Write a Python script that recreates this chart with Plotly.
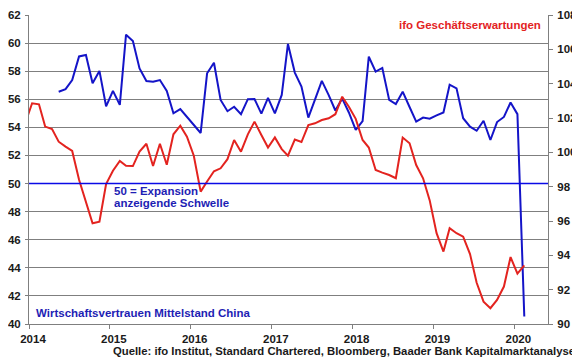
import pandas as pd
import plotly.graph_objects as go

# ---------------- data ----------------
ifo_start = "2013-12-01"
ifo_values = [101.7, 102.86, 102.80, 101.50, 101.36, 100.62, 100.33, 100.08, 98.4, 97.1,
              95.87, 95.96, 98.15, 98.93, 99.50, 99.22, 99.20, 100.05, 100.5, 99.2,
              100.5, 99.28, 101.05, 101.55, 100.91, 99.8, 97.71, 98.3, 98.9, 99.07,
              99.6, 100.72, 100.04, 101.05, 101.79, 101.01, 100.28, 100.87, 100.19, 99.81,
              100.74, 100.6, 101.59, 101.69, 101.88, 101.98, 102.22, 103.24, 102.66, 101.95,
              100.72, 100.28, 98.97, 98.82, 98.68, 98.49, 100.86, 100.53, 99.26, 98.49,
              97.2, 95.29, 94.22, 95.58, 95.29, 95.09, 94.07, 92.4, 91.3, 90.92,
              91.4, 92.18, 93.9, 92.93, 93.41]

sme_start = "2014-05-01"
sme_values = [56.54, 56.72, 57.37, 59.05, 59.15, 57.14, 58.02, 55.5, 56.6, 55.6,
              60.6, 60.15, 58.2, 57.3, 57.25, 57.37, 56.6, 55.0, 55.3, 54.75,
              54.2, 53.6, 57.85, 58.6, 55.95, 55.15, 55.47, 54.94, 56.01, 56.02,
              54.98, 56.1, 55.0, 56.31, 59.94, 57.9, 56.9, 54.7, 55.98, 57.31,
              56.3, 55.2, 56.05, 55.06, 53.82, 54.45, 59.03, 57.97, 58.23, 55.95,
              55.66, 56.54, 55.45, 54.41, 54.7, 54.62, 54.85, 55.06, 57.04, 56.78,
              54.65, 54.05, 53.76, 54.47, 53.1, 54.38, 54.74, 55.77, 54.94, 40.53]

year_ticks = ["2014", "2015", "2016", "2017", "2018", "2019", "2020"]
threshold = 50

ifo_dates = pd.date_range(ifo_start, periods=len(ifo_values), freq="MS") + pd.Timedelta(days=14)
sme_dates = pd.date_range(sme_start, periods=len(sme_values), freq="MS") + pd.Timedelta(days=14)

# ---------------- styling ----------------
W, H = 580, 359
OFF = 8  # page body margin offset
PL, PR, PT, PB = 29, 548, 15, 324  # plot area in window pixels
L, T = PL - OFF, PT - OFF
R, B = W - (PR - OFF), H - (PB - OFF)
FONT = "Liberation Sans, Arial, sans-serif"
RED = "#e3231f"
BLUE = "#1414c8"
TXTBLUE = "#1e1eb4"
GRID = "#7f7f7f"


def px(x):
    return (x - PL) / (PR - PL)


def py(y):
    return (PB - y) / (PB - PT)


fig = go.Figure()
fig.add_trace(go.Scatter(x=ifo_dates, y=ifo_values, mode="lines", yaxis="y2",
                         line=dict(color=RED, width=2), name="ifo Geschäftserwartungen"))
fig.add_trace(go.Scatter(x=sme_dates, y=sme_values, mode="lines", yaxis="y",
                         line=dict(color=BLUE, width=2), name="Wirtschaftsvertrauen Mittelstand China"))

fig.add_shape(type="line", xref="paper", yref="y", x0=0, x1=1, y0=threshold, y1=threshold,
              line=dict(color="#0a0ae6", width=1.6))

tickfont = dict(family=FONT, size=11.5, color="#1a1a1a", weight="bold")

fig.update_layout(
    width=W, height=H, autosize=False,
    margin=dict(l=L, r=R, t=T, b=B, autoexpand=False),
    paper_bgcolor="white", plot_bgcolor="white",
    showlegend=False,
    xaxis=dict(type="date", range=["2014-01-01", "2020-06-01"],
               tickvals=[f"{y}-01-01" for y in year_ticks], ticktext=year_ticks,
               showgrid=False, showline=True, linecolor=GRID, linewidth=1,
               ticks="outside", ticklen=4, tickcolor=GRID, tickfont=tickfont,
               ticklabelshift=4, zeroline=False),
    yaxis=dict(range=[40, 62], dtick=2, tick0=40, showgrid=True, gridcolor=GRID, gridwidth=1,
               showline=True, linecolor=GRID, ticks="outside", ticklen=3, tickcolor=GRID,
               ticklabelstandoff=2, tickfont=tickfont, zeroline=False),
    yaxis2=dict(range=[90, 108], dtick=2, tick0=90, overlaying="y", side="right",
                showgrid=False, showline=True, linecolor=GRID, ticks="outside", ticklen=4,
                tickcolor=GRID, ticklabelstandoff=2, tickfont=tickfont, zeroline=False),
)

annfont = dict(family=FONT, size=11.5, weight="bold")
fig.add_annotation(text="ifo Geschäftserwartungen", xref="paper", yref="paper",
                   x=px(543), y=py(25), xanchor="right", yanchor="middle", showarrow=False,
                   font=dict(annfont, color=RED))
fig.add_annotation(text="50 = Expansion", xref="paper", yref="paper",
                   x=px(112), y=py(190.7), xanchor="left", yanchor="middle", showarrow=False,
                   font=dict(annfont, color=TXTBLUE))
fig.add_annotation(text="anzeigende Schwelle", xref="paper", yref="paper",
                   x=px(112), y=py(203.3), xanchor="left", yanchor="middle", showarrow=False,
                   font=dict(annfont, color=TXTBLUE))
fig.add_annotation(text="Wirtschaftsvertrauen Mittelstand China", xref="paper", yref="paper",
                   x=px(34), y=py(312.7), xanchor="left", yanchor="middle", showarrow=False,
                   font=dict(annfont, color=TXTBLUE))
fig.add_annotation(text="Quelle: ifo Institut, Standard Chartered, Bloomberg, Baader Bank Kapitalmarktanalyse",
                   xref="paper", yref="paper", x=px(577), y=py(351), xanchor="right", yanchor="middle",
                   showarrow=False, font=dict(family=FONT, size=11.3, weight="bold", color="#1a1a1a"))

fig.write_html("out.html")
